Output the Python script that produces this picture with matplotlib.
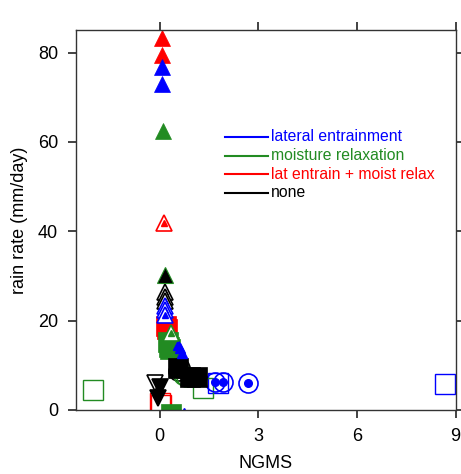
import matplotlib
matplotlib.use("Agg")
import matplotlib.pyplot as plt
from matplotlib.lines import Line2D

plt.rcParams['font.family'] = ['Liberation Sans', 'DejaVu Sans']

BLUE = '#0000FF'
GREEN = '#228B22'
RED = '#FF0000'
BLACK = '#000000'

# Filled upward triangles
tri_x = [0.06, 0.06, 0.08, 0.08, 0.10]
tri_y = [83.2, 79.4, 76.8, 73.0, 62.5]
tri_c = [RED, RED, BLUE, BLUE, GREEN]

# Open upward triangles (with small filled centre)
otri_x = [0.13, 0.17, 0.17, 0.17, 0.18, 0.18, 0.18, 0.34]
otri_y = [41.8, 26.5, 25.4, 24.3, 23.3, 22.3, 21.3, 17.3]
otri_c = [RED, BLACK, BLACK, BLACK, BLUE, BLUE, BLUE, GREEN]

# Black filled triangle with green outline
btri_x = [0.16]
btri_y = [30.2]

# Filled squares
sq_x = [0.20, 0.22, 0.26, 0.30, 0.32, 0.57, 0.92, 1.13, 0.35]
sq_y = [18.8, 18.2, 15.3, 14.2, 13.6, 9.3, 7.4, 7.4, -1.0]
sq_c = [RED, RED, GREEN, GREEN, GREEN, BLACK, BLACK, BLACK, GREEN]

# Small filled blue triangles
stri_x = [0.55, 0.62, 0.67, 0.75]
stri_y = [14.6, 13.9, 12.8, -0.6]

# Open circles
oc_x = [0.55, 0.62, 0.72, 0.80]
oc_y = [8.8, 9.5, 7.8, 7.3]
oc_c = [BLACK, BLACK, GREEN, GREEN]

# Circles with centre dot
dc_x = [1.68, 1.94, 2.68]
dc_y = [6.3, 6.3, 6.0]

# Open squares
os_x = [1.78, 8.67, -2.03, 1.33, 0.00, 0.05]
os_y = [6.0, 5.9, 4.5, 5.0, 1.6, 1.2]
os_c = [BLUE, BLUE, GREEN, GREEN, RED, RED]

# Downward triangles
dt_x = [-0.14, 0.01, -0.04]
dt_y = [6.0, 5.2, 2.6]
dt_fill = [False, True, True]

legend_labels = ['lateral entrainment', 'moisture relaxation',
                 'lat entrain + moist relax', 'none']
legend_colors = [BLUE, GREEN, RED, BLACK]

x_ticks = [0, 3, 6, 9]
y_ticks = [0, 20, 40, 60, 80]

fig = plt.figure(figsize=(4.61, 4.74), dpi=100)
ax = fig.add_axes([76 / 461, 1 - 410 / 474, 379.5 / 461, 379.7 / 474])

MS_TRI = 11.8
MS_SQ = 14.0
MS_CIR = 13.7

for x, y, c in zip(os_x, os_y, os_c):
    ax.plot(x, y, 's', ms=MS_SQ, mfc='none', mec=c, mew=1.0, clip_on=True)

for x, y, c in zip(oc_x, oc_y, oc_c):
    ax.plot(x, y, 'o', ms=MS_CIR, mfc='none', mec=c, mew=1.2)

for x, y in zip(dc_x, dc_y):
    ax.plot(x, y, 'o', ms=MS_CIR, mfc='none', mec=BLUE, mew=1.2)
    ax.plot(x, y, 'o', ms=5.5, mfc=BLUE, mec=BLUE)

for x, y, c in zip(sq_x, sq_y, sq_c):
    ax.plot(x, y, 's', ms=MS_SQ, mfc=c, mec=c, mew=0.5)

for x, y in zip(stri_x, stri_y):
    ax.plot(x, y, '^', ms=7, mfc=BLUE, mec=BLUE)

for x, y, c in zip(otri_x, otri_y, otri_c):
    ax.plot(x, y, '^', ms=MS_TRI, mfc='white', mec=c, mew=1.2)
    ax.plot(x, y, '^', ms=4.5, mfc=c, mec=c)

for x, y in zip(btri_x, btri_y):
    ax.plot(x, y, '^', ms=MS_TRI, mfc=BLACK, mec=GREEN, mew=0.8)

for x, y, c in zip(tri_x, tri_y, tri_c):
    ax.plot(x, y, '^', ms=MS_TRI, mfc=c, mec=c, mew=0.5)

for x, y, f in zip(dt_x, dt_y, dt_fill):
    ax.plot(x, y, 'v', ms=MS_TRI, mfc=BLACK if f else 'white', mec=BLACK, mew=1.2)

ax.set_xlim(-2.54, 9.0)
ax.set_ylim(0, 85)

ax.set_xticks(x_ticks)
ax.set_yticks(y_ticks)
ax.tick_params(direction='out', length=6, width=1.2, labelsize=13,
               top=True, right=True, labeltop=False, labelright=False,
               color='#222222', pad=7)
for s in ax.spines.values():
    s.set_color('#333333')
    s.set_linewidth(1.0)

ax.set_xlabel('NGMS', fontsize=13, labelpad=7)
ax.set_ylabel('rain rate (mm/day)', fontsize=13, labelpad=7)

# Key drawn inside the panel
x0, x1, xt = 0.393, 0.506, 0.514
y_top, dy = 0.719, 0.0488
for i, (lab, col) in enumerate(zip(legend_labels, legend_colors)):
    yy = y_top - i * dy
    ax.add_line(Line2D([x0, x1], [yy, yy], color=col, lw=1.5,
                       transform=ax.transAxes))
    ax.text(xt, yy, lab, color=col, fontsize=11.3, va='center', ha='left',
            transform=ax.transAxes)

fig.savefig('out.png', dpi=100)
